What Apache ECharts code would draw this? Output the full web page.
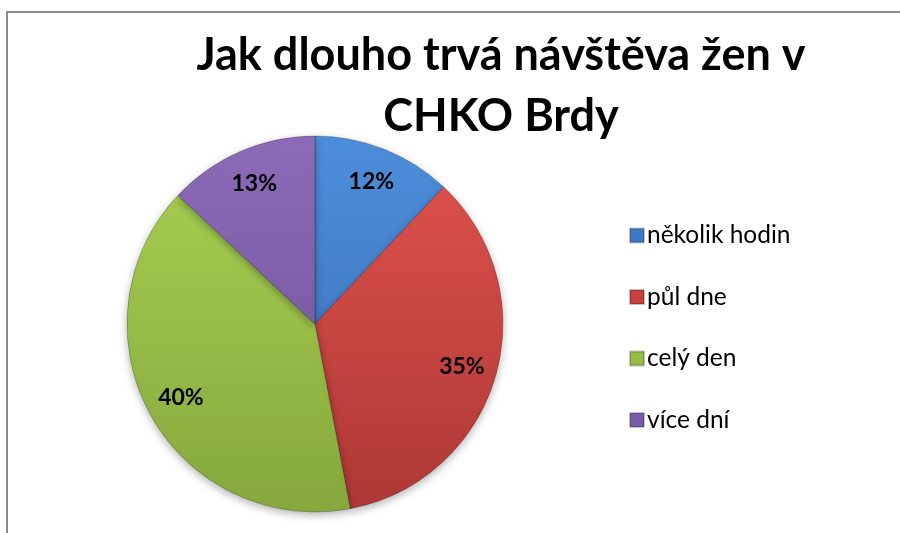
<!DOCTYPE html>
<html>
<head>
<meta charset="utf-8">
<script src="https://cdn.jsdelivr.net/npm/echarts@6/dist/echarts.min.js"></script>
<style>
  html, body { margin: 0; padding: 0; background: #fff; }
  #chart { width: 900px; height: 533px; }
</style>
</head>
<body>
<div id="chart"></div>
<script>
const chartTitle = 'Jak dlouho trvá návštěva žen v\nCHKO Brdy';
const categories = ['několik hodin', 'půl dne', 'celý den', 'více dní'];
const shares = [12, 35, 40, 13];
const topColors = ['#4d8edb', '#e2534e', '#a9d152', '#8c6bb8'];
const bottomColors = ['#386bb0', '#ad3835', '#86a83d', '#6a4f92'];
const legendColors = ['#3f78c4', '#c8403c', '#96bd45', '#7a5ca6'];

const font = 'Lato, "Open Sans", sans-serif';
const cx = 315, cy = 324, r = 188;

const gradient = (i) => ({
  type: 'linear', global: true,
  x: 0, y: cy - r, x2: 0, y2: cy + r,
  colorStops: [
    { offset: 0, color: topColors[i] },
    { offset: 1, color: bottomColors[i] }
  ]
});

const chart = echarts.init(document.getElementById('chart'));

chart.setOption({
  backgroundColor: '#fff',
  animation: false,
  graphic: [
    {
      type: 'rect',
      shape: { x: 7, y: 12, width: 1000, height: 1000 },
      style: { fill: 'none', stroke: '#8c8c8c', lineWidth: 2 }
    },
    {
      type: 'text',
      x: 501, y: 25,
      style: {
        text: chartTitle,
        align: 'center',
        fontFamily: font,
        fontWeight: 'bold',
        fontSize: 45,
        lineHeight: 61,
        fill: '#000'
      }
    }
  ],
  legend: {
    orient: 'vertical',
    left: 624,
    top: 218,
    itemWidth: 14,
    itemHeight: 14,
    itemGap: 36.5,
    icon: 'rect',
    data: categories.map((name, i) => ({ name, itemStyle: { color: legendColors[i] } })),
    textStyle: { fontFamily: font, fontSize: 24.5, lineHeight: 22, color: '#000', padding: [0, 0, 0, -2] }
  },
  series: [
    {
      type: 'pie',
      center: [cx, cy],
      radius: r,
      startAngle: 90,
      clockwise: true,
      label: { show: false },
      labelLine: { show: false },
      emphasis: { disabled: true },
      itemStyle: {
        borderColor: 'rgba(0,0,0,0.22)',
        borderWidth: 1,
        shadowBlur: 8,
        shadowOffsetY: 3,
        shadowColor: 'rgba(0,0,0,0.3)'
      },
      data: categories.map((name, i) => ({ name, value: shares[i], itemStyle: { color: gradient(i) } }))
    },
    {
      type: 'pie',
      center: [cx, cy],
      radius: [112, r],
      startAngle: 90,
      clockwise: true,
      silent: true,
      itemStyle: { color: 'transparent' },
      label: {
        show: true,
        position: 'inside',
        formatter: '{c}%',
        fontFamily: font,
        fontWeight: 'bold',
        fontSize: 23,
        color: '#000'
      },
      labelLine: { show: false },
      data: categories.map((name, i) => ({ name, value: shares[i] }))
    }
  ]
});
</script>
</body>
</html>
